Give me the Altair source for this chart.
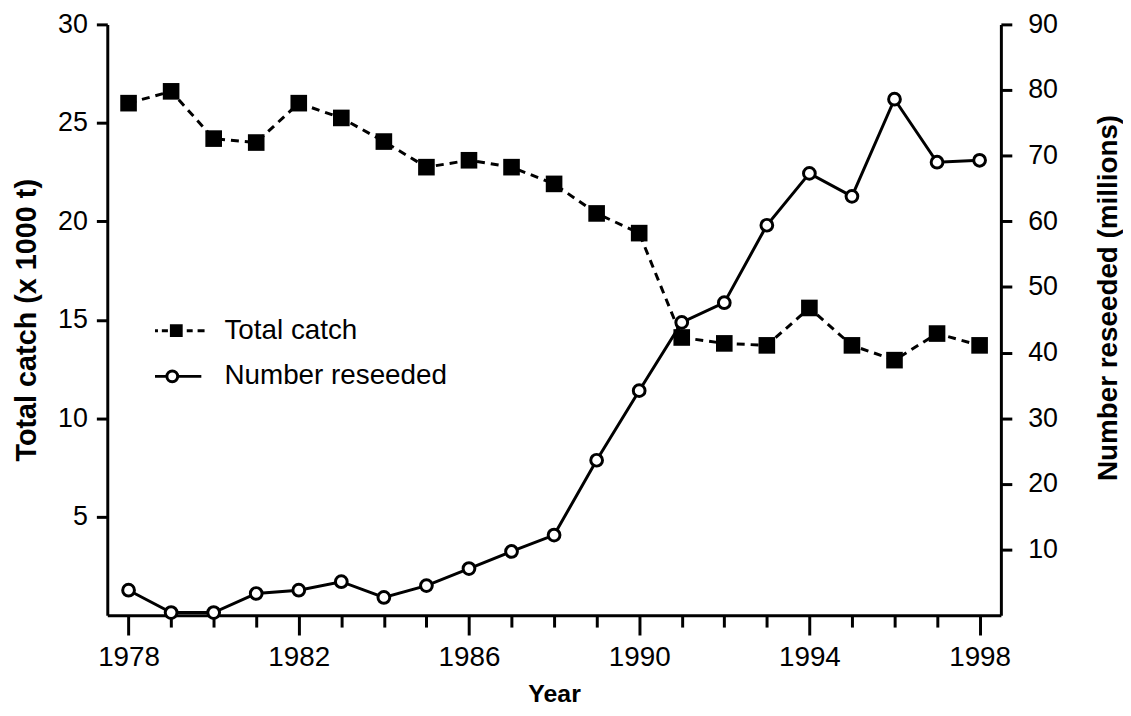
import altair as alt
import pandas as pd

# ---- data ----
years = list(range(1978, 1999))
total_catch = [26.0, 26.6, 24.2, 24.0, 26.0, 25.25, 24.05, 22.75, 23.1, 22.75, 21.9,
               20.4, 19.4, 14.1, 13.8, 13.7, 15.6, 13.7, 12.95, 14.3, 13.7]
number_reseeded = [3.8, 0.4, 0.4, 3.3, 3.8, 5.1, 2.7, 4.5, 7.1, 9.7, 12.2,
                   23.6, 34.2, 44.6, 47.6, 59.4, 67.3, 63.8, 78.6, 69.0, 69.3]
left_ticks = [5, 10, 15, 20, 25, 30]
right_ticks = [10, 20, 30, 40, 50, 60, 70, 80, 90]
series_names = ["Total catch", "Number reseeded"]

df = pd.DataFrame({"Year": years, "catch": total_catch, "reseeded": number_reseeded})
legend_df = pd.DataFrame({"series": series_names})

FONT = "Liberation Sans"

# legend symbols: dashed line with square / solid line with open circle
square_sym = ("M-1.65,0H-1.42M-1.12,0H-0.65M0.81,0H1.27M1.65,0H2.19"
              "M-0.38,-0.38H0.38V0.38H-0.38Z")
circle_sym = ("M-1.65,0H-0.73M0.11,0H1.94"
              "M-0.73,0A0.42,0.42 0 1 1 0.11,0A0.42,0.42 0 1 1 -0.73,0Z")

x_scale = alt.Scale(domain=[1977.5, 1998.5], nice=False, zero=False)
x_axis = alt.Axis(
    values=years, format="d", title="Year",
    tickSize={"condition": {"test": "datum.value % 4 == 2", "value": 20}, "value": 12},
    labelExpr="datum.value % 4 == 2 ? datum.label : ''",
    labelOverlap=False, labelFlush=False,
    labelFontSize=28, labelPadding=9, titleFontSize=25, titlePadding=10,
)
X = alt.X("Year:Q", scale=x_scale, axis=x_axis)

legend_props = dict(title=None, orient="none", legendX=55, legendY=294,
                    symbolSize=676, symbolStrokeWidth=3, labelFontSize=28,
                    labelOffset=34, rowPadding=17, padding=0, labelLimit=500,
                    symbolOpacity=1, labelFont=FONT, labelColor="black")

base = alt.Chart(df)

catch_line = base.mark_line(color="black", strokeWidth=3, strokeDash=[8, 6]).encode(
    x=X,
    y=alt.Y("catch:Q", scale=alt.Scale(domain=[0, 30], nice=False),
            axis=alt.Axis(values=left_ticks, orient="left", title="Total catch (x 1000 t)",
                          titleFontSize=29, titlePadding=16, labelPadding=9)),
)
catch_pts = base.mark_point(shape="square", filled=True, color="black", size=280, opacity=1).encode(
    x=X,
    y=alt.Y("catch:Q"),
)
legend_layer = alt.Chart(legend_df).transform_filter("false").mark_point(
    filled=True, strokeWidth=3
).encode(
    shape=alt.Shape("series:N",
                    scale=alt.Scale(domain=series_names, range=[square_sym, circle_sym]),
                    legend=alt.Legend(**legend_props)),
    fill=alt.Fill("series:N",
                  scale=alt.Scale(domain=series_names, range=["black", "white"]),
                  legend=alt.Legend(**legend_props)),
    stroke=alt.Stroke("series:N",
                      scale=alt.Scale(domain=series_names, range=["black", "black"]),
                      legend=alt.Legend(**legend_props)),
)

catch_layer = alt.layer(catch_line, catch_pts, legend_layer)

res_line = base.mark_line(color="black", strokeWidth=3).encode(
    x=X,
    y=alt.Y("reseeded:Q", scale=alt.Scale(domain=[0, 90], nice=False),
            axis=alt.Axis(values=right_ticks, orient="right", title="Number reseeded (millions)",
                          titleAngle=270, titleBaseline="top", titleFontSize=28,
                          titlePadding=37, labelPadding=16, titleY=275)),
)
res_pts = base.mark_point(shape="circle", filled=True, fill="white", stroke="black",
                          strokeWidth=3, size=140, opacity=1).encode(
    x=X,
    y=alt.Y("reseeded:Q"),
)
res_layer = alt.layer(res_line, res_pts)

chart = alt.layer(catch_layer, res_layer).resolve_scale(
    y="independent"
).properties(
    width=900, height=595,
    autosize=alt.AutoSizeParams(type="none"),
    padding={"left": 100, "top": 14, "right": 123, "bottom": 90},
).configure_view(stroke=None).configure_axis(
    domainColor="black", domainWidth=3, tickColor="black", tickWidth=3,
    labelColor="black", titleColor="black", labelFont=FONT, titleFont=FONT,
    labelFontSize=27, titleFontWeight="bold", grid=False, tickSize=11,
    labelFontWeight="normal",
).configure_legend(labelFont=FONT)

chart.save("out.html", embed_options={"renderer": "svg", "actions": False})
